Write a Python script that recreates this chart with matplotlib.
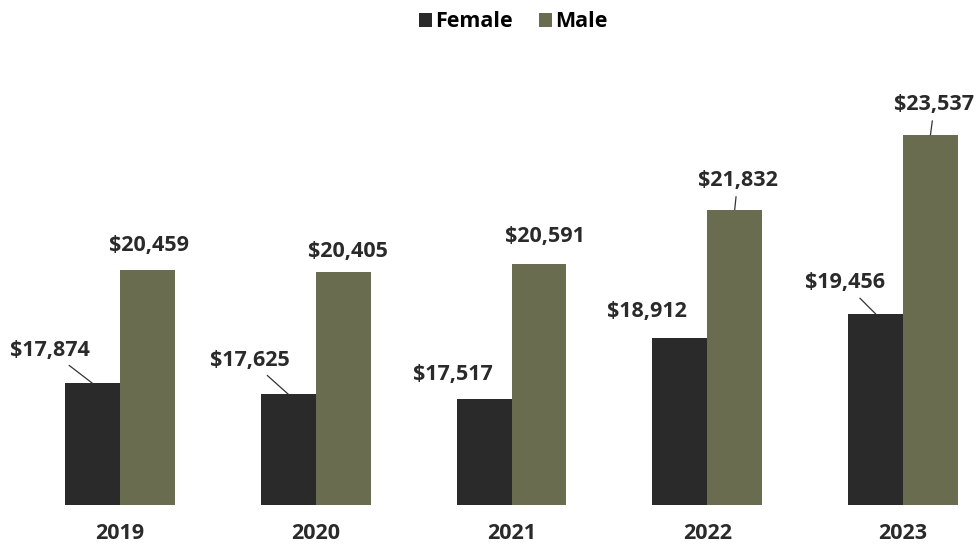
import matplotlib.pyplot as plt
import numpy as np

# Data.
years = ["2019", "2020", "2021", "2022", "2023"]
female = [17874, 17625, 17517, 18912, 19456]
male = [20459, 20405, 20591, 21832, 23537]

# Label offsets in pixels (dx, dy) and whether a leader line is drawn.
female_off = [(-43, 33, True), (-38, 34, True), (-31, 25, False), (-33, 26, False), (-31, 31, True)]
male_off = [(2, 24, False), (5, 21, False), (6, 28, False), (3, 29, True), (4, 30, True)]

c_female = "#2a2a2a"
c_male = "#696c4f"
font = "Open Sans"

fig = plt.figure(figsize=(9.8, 5.46), dpi=100)
ax = fig.add_axes([0, 0.0751, 1, 0.815])

x = np.arange(len(years))
w = 0.28
bf = ax.bar(x - w / 2, female, w, color=c_female, label="Female")
bm = ax.bar(x + w / 2, male, w, color=c_male, label="Male")

ax.set_xlim(-0.613, 4.393)
ax.set_ylim(15104, 25240)

def label(bars, vals, offs):
    for b, v, (dx, dy, line) in zip(bars, vals, offs):
        xc = b.get_x() + b.get_width() / 2
        props = dict(arrowstyle="-", color="#333333", lw=0.9, shrinkA=2, shrinkB=0) if line else None
        ax.annotate("${:,}".format(v), xy=(xc, v), xytext=(dx, dy),
                    textcoords="offset pixels", ha="center", va="center",
                    fontsize=15.5, fontweight="bold", family=font, color="#2a2a2a",
                    arrowprops=props, annotation_clip=False)

label(bf, female, female_off)
label(bm, male, male_off)

ax.set_xticks(x)
ax.set_xticklabels(years, fontsize=15.5, fontweight="bold", family=font, color="#2a2a2a")
ax.tick_params(axis="x", length=0, pad=13)
ax.set_yticks([])
for s in ax.spines.values():
    s.set_visible(False)

fig.legend(handles=[bf, bm], loc="center", bbox_to_anchor=(0.524, 0.96), ncol=2,
           frameon=False, handlelength=0.6, handleheight=0.6, handletextpad=0.15,
           columnspacing=1.2, prop={"family": font, "weight": "bold", "size": 15.5})

fig.savefig("out.png", dpi=100)
